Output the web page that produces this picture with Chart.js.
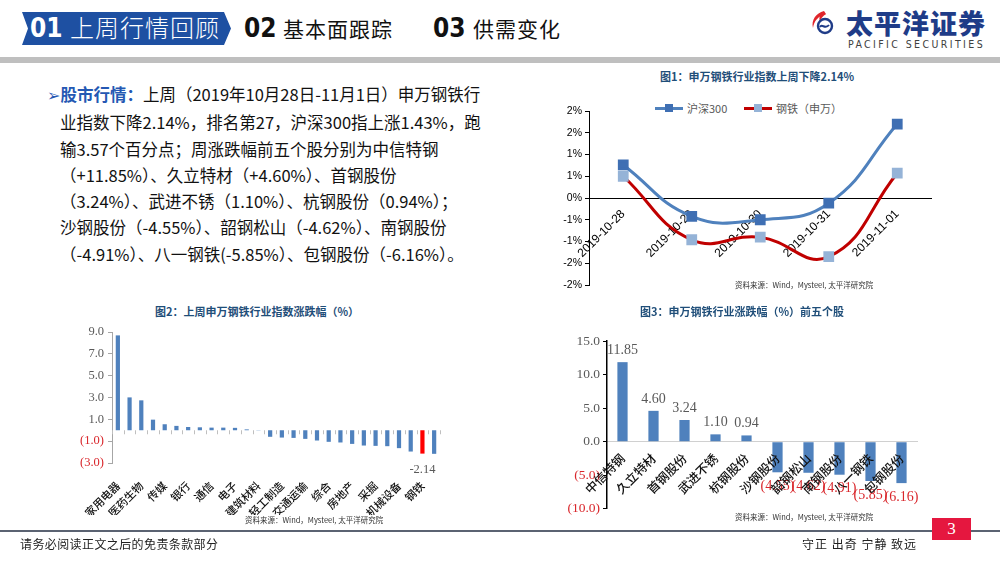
<!DOCTYPE html>
<html><head><meta charset="utf-8">
<script src="https://cdn.jsdelivr.net/npm/chart.js@4.4.1/dist/chart.umd.min.js"></script>
<style>
html,body{margin:0;padding:0;}
body{width:1000px;height:563px;position:relative;overflow:hidden;background:#fff;font-family:"Noto Sans CJK SC","Noto Sans",sans-serif;}
.abs{position:absolute;white-space:nowrap;}
canvas{position:absolute;}
.ctitle{position:absolute;white-space:nowrap;font-weight:bold;font-size:11px;color:#1F4E79;transform:translateX(-50%);line-height:13px;}
.src{position:absolute;white-space:nowrap;font-size:7.5px;color:#333;line-height:9px;}
.lg{position:absolute;white-space:nowrap;font-size:11px;color:#595959;line-height:14px;display:flex;align-items:center;}
.lgline{position:relative;display:inline-block;width:28px;height:3px;margin-right:4px;}
.lgline i{position:absolute;left:10px;top:-3px;width:8px;height:8px;}
</style></head><body>

<!-- header -->
<div class="abs" style="left:22px;top:12px;width:209px;height:33px;background:#1E50A2;clip-path:polygon(0 0,202px 0,209px 50%,202px 100%,0 100%,6px 50%);"></div>
<div class="abs" style="left:30px;top:11px;font-family:'Liberation Sans Narrow','DejaVu Sans Condensed',sans-serif;font-weight:bold;font-size:26px;line-height:34px;color:#fff;">01</div>
<div class="abs" style="left:70px;top:10px;font-size:24px;line-height:34px;font-weight:300;color:#fff;letter-spacing:1px;">上周行情回顾</div>
<div class="abs" style="left:244px;top:11px;font-family:'Liberation Sans Narrow','DejaVu Sans Condensed',sans-serif;font-weight:bold;font-size:26px;line-height:34px;color:#111;">02</div>
<div class="abs" style="left:283px;top:11px;font-size:21px;line-height:34px;color:#111;letter-spacing:1px;">基本面跟踪</div>
<div class="abs" style="left:433px;top:11px;font-family:'Liberation Sans Narrow','DejaVu Sans Condensed',sans-serif;font-weight:bold;font-size:26px;line-height:34px;color:#111;">03</div>
<div class="abs" style="left:473px;top:11px;font-size:21px;line-height:34px;color:#111;letter-spacing:1px;">供需变化</div>

<svg class="abs" style="left:810px;top:10px" width="28" height="26" viewBox="0 0 28 26">
  <path d="M14 1 C6 3 1 10 3 18 C4 11 8 6 16 4 Z" fill="#E0252B"/>
  <path d="M11 4 C9 7 9 9 10 11 C11 8 13 6 16 4 Z" fill="#E0252B"/>
  <circle cx="15" cy="16" r="7" fill="none" stroke="#1F3C88" stroke-width="2.4"/>
  <path d="M10 17 C12 13 15 20 19 15" stroke="#1F3C88" stroke-width="2" fill="none"/>
</svg>
<div class="abs" style="left:846px;top:5px;font-size:27px;line-height:36px;font-weight:900;color:#1F3C88;letter-spacing:1px;">太平洋证券</div>
<div class="abs" style="left:848px;top:38px;font-family:'DejaVu Sans Condensed','Liberation Sans',sans-serif;font-size:10.5px;line-height:12px;color:#404040;letter-spacing:2.4px;">PACIFIC SECURITIES</div>
<div class="abs" style="left:0;top:57px;width:1000px;height:6px;background:#BFBFBF;"></div>

<!-- text block -->
<div class="abs" style="left:47px;top:81px;font-size:16.5px;line-height:26.3px;color:#111;">
  <div><span style="color:#2458B3;font-weight:bold;"><span style="font-family:'DejaVu Sans';font-size:16px;">➢</span>股市行情：</span>上周（2019年10月28日-11月1日）申万钢铁行</div>
  <div style="padding-left:13px">业指数下降2.14%，排名第27，沪深300指上涨1.43%，跑</div>
  <div style="padding-left:13px">输3.57个百分点；周涨跌幅前五个股分别为中信特钢</div>
  <div style="padding-left:13px">（+11.85%）、久立特材（+4.60%）、首钢股份</div>
  <div style="padding-left:13px">（3.24%）、武进不锈（1.10%）、杭钢股份（0.94%）；</div>
  <div style="padding-left:13px">沙钢股份（-4.55%）、韶钢松山（-4.62%）、南钢股份</div>
  <div style="padding-left:13px">（-4.91%）、八一钢铁(-5.85%）、包钢股份（-6.16%）。</div>
</div>

<!-- chart 1 -->
<div class="ctitle" style="left:757px;top:70px;">图1：申万钢铁行业指数上周下降2.14%</div>
<div class="lg" style="left:655px;top:101px;"><span class="lgline" style="background:#4F81BD"><i style="background:#3F6FB3"></i></span>沪深300</div>
<div class="lg" style="left:744px;top:101px;"><span class="lgline" style="background:#C00000"><i style="background:#95B3D7"></i></span>钢铁（申万）</div>
<canvas id="c1" width="400" height="195" style="left:540px;top:100px;width:400px;height:195px"></canvas>
<div class="src" style="left:735px;top:280px;">资料来源：Wind，Mysteel, 太平洋研究院</div>

<!-- chart 2 -->
<div class="ctitle" style="left:257px;top:305px;">图2：上周申万钢铁行业指数涨跌幅（%）</div>
<canvas id="c2" width="390" height="195" style="left:60px;top:320px;width:390px;height:195px"></canvas>
<div class="src" style="left:245px;top:515px;">资料来源：Wind，Mysteel, 太平洋研究院</div>

<!-- chart 3 -->
<div class="ctitle" style="left:742px;top:305px;">图3：申万钢铁行业涨跌幅（%）前五个股</div>
<canvas id="c3" width="370" height="200" style="left:560px;top:320px;width:370px;height:200px"></canvas>
<div class="src" style="left:735px;top:512px;">资料来源：Wind，Mysteel, 太平洋研究院</div>

<!-- footer -->
<div class="abs" style="left:0;top:530px;width:1000px;height:2px;background:#5B6372;"></div>
<div class="abs" style="left:20px;top:536px;font-size:12px;line-height:16px;color:#222;letter-spacing:0.4px;">请务必阅读正文之后的免责条款部分</div>
<div class="abs" style="left:802px;top:536px;font-size:12px;line-height:16px;color:#222;letter-spacing:1px;">守正 出奇 宁静 致远</div>
<div class="abs" style="left:932px;top:518px;width:39px;height:22px;background:#E5173F;color:#fff;font-family:'Liberation Serif',serif;font-size:17px;line-height:22px;text-align:center;">3</div>

<script>
// ---------- data ----------
const lineDates = ['2019-10-28','2019-10-29','2019-10-30','2019-10-31','2019-11-01'];
const hs300Values = [0.76, -0.42, -0.50, -0.12, 1.70];
const steelSWValues = [0.50, -0.96, -0.90, -1.35, 0.57];

const industryNames = ['家用电器','休闲服务','医药生物','食品饮料','传媒','计算机','银行','非银金融','通信','电气设备','电子','农林牧渔','建筑材料','汽车','轻工制造','商业贸易','交通运输','纺织服装','综合','化工','房地产','公用事业','采掘','有色金属','机械设备','建筑装饰','钢铁','国防军工'];
const industryValues = [8.69, 3.01, 2.74, 0.97, 0.55, 0.40, 0.30, 0.27, 0.24, 0.24, 0.22, 0.08, -0.02, -0.60, -0.67, -0.70, -0.79, -0.94, -1.06, -1.12, -1.25, -1.40, -1.43, -1.46, -1.64, -1.95, -2.14, -2.16];
const highlightIndustry = '钢铁';

const stockNames = ['中信特钢','久立特材','首钢股份','武进不锈','杭钢股份','沙钢股份','韶钢松山','南钢股份','八一钢铁','包钢股份'];
const stockValues = [11.85, 4.60, 3.24, 1.10, 0.94, -4.55, -4.62, -4.91, -5.85, -6.16];

// ---------- helpers ----------
const BLUE = '#4F81BD';
const RED_TXT = '#D9262B';
const GRAY_TXT = '#595959';
const SERIF = "'Liberation Serif', 'DejaVu Serif', serif";
const CJK = "'Noto Sans CJK SC', sans-serif";
const acctFmt = v => v < 0 ? '(' + Math.abs(v).toFixed(1) + ')' : v.toFixed(1);
const pctRound = v => { const r = Math.sign(v) * Math.round(Math.abs(v) + 1e-9); return (r === 0 ? 0 : r) + '%'; };

// ---------- chart 1 ----------
new Chart(document.getElementById('c1'), {
  type: 'line',
  data: {
    labels: lineDates,
    datasets: [
      { label: '沪深300', data: hs300Values, borderColor: '#4F81BD', backgroundColor: '#3F6FB3',
        pointBackgroundColor: '#3F6FB3', pointBorderColor: '#3F6FB3', pointStyle: 'rect', pointRadius: 5.5,
        borderWidth: 3, tension: 0.45 },
      { label: '钢铁（申万）', data: steelSWValues, borderColor: '#C00000', backgroundColor: '#95B3D7',
        pointBackgroundColor: '#95B3D7', pointBorderColor: '#95B3D7', pointStyle: 'rect', pointRadius: 5.5,
        borderWidth: 3, tension: 0.45 }
    ]
  },
  options: {
    responsive: false, animation: false,
    layout: { padding: { left: 0, top: 11, right: 8, bottom: 10 } },
    plugins: { legend: { display: false }, tooltip: { enabled: false } },
    scales: {
      x: {
        position: { y: 0 }, offset: true,
        grid: { display: false, drawTicks: false },
        border: { display: true, color: '#000', width: 1 },
        ticks: { minRotation: 45, maxRotation: 45, autoSkip: false, padding: 9, color: '#000',
                 font: { family: "'Liberation Sans', Arial, sans-serif", size: 12 } }
      },
      y: {
        min: -2, max: 2,
        afterFit: s => { s.width = 49; },
        grid: { drawOnChartArea: false, drawTicks: true, tickLength: 4, color: '#000' },
        border: { display: true, color: '#000', width: 1 },
        ticks: { stepSize: 0.5, callback: v => pctRound(v), color: '#000', padding: 3,
                 font: { family: "'Liberation Sans', Arial, sans-serif", size: 10.5 } }
      }
    }
  }
});

// ---------- chart 2 ----------
const zeroTicks = {
  id: 'zeroTicks',
  afterDraw(chart) {
    const xs = chart.scales.x, ys = chart.scales.y, ctx = chart.ctx;
    const y0 = ys.getPixelForValue(0);
    ctx.save(); ctx.strokeStyle = '#BFBFBF'; ctx.lineWidth = 1;
    for (let i = 0; i <= industryNames.length; i++) {
      const x = Math.round(xs.getPixelForValue(i - 0.5)) + 0.5;
      ctx.beginPath(); ctx.moveTo(x, y0); ctx.lineTo(x, y0 + 4); ctx.stroke();
    }
    const meta = chart.getDatasetMeta(0);
    const hi = industryNames.indexOf(highlightIndustry);
    const bar = meta.data[hi];
    ctx.fillStyle = GRAY_TXT; ctx.font = '12.5px ' + SERIF; ctx.textAlign = 'center'; ctx.textBaseline = 'top';
    ctx.fillText(industryValues[hi].toFixed(2), bar.x, bar.y + 10);
    ctx.restore();
  }
};
new Chart(document.getElementById('c2'), {
  type: 'bar',
  data: {
    labels: industryNames,
    datasets: [{ data: industryValues,
      backgroundColor: industryNames.map(n => n === highlightIndustry ? '#FF0000' : BLUE),
      barPercentage: 0.36, categoryPercentage: 1 }]
  },
  options: {
    responsive: false, animation: false,
    layout: { padding: { left: 0, top: 12, right: 10, bottom: 0 } },
    plugins: { legend: { display: false }, tooltip: { enabled: false } },
    scales: {
      x: {
        afterFit: s => { s.height = 52; s.paddingLeft = 0; s.paddingRight = 0; },
        grid: { display: false, drawTicks: false },
        border: { display: false },
        ticks: { minRotation: 45, maxRotation: 45, autoSkip: false, padding: 16, color: '#111',
                 callback: (v, i) => i % 2 === 0 ? industryNames[i] : '',
                 font: { family: CJK, size: 11, weight: '500' } }
      },
      y: {
        min: -3, max: 9,
        afterFit: s => { s.width = 52; },
        grid: { drawOnChartArea: true, drawTicks: true, tickLength: 4,
                color: c => c.tick && c.tick.value === 0 ? '#D0D0D0' : 'rgba(0,0,0,0)', tickColor: '#A6A6A6' },
        border: { display: true, color: '#A6A6A6', width: 1 },
        ticks: { stepSize: 2, callback: v => acctFmt(v), padding: 4,
                 color: c => c.tick.value < 0 ? RED_TXT : GRAY_TXT,
                 font: { family: SERIF, size: 12.5 } }
      }
    }
  },
  plugins: [zeroTicks]
});

// ---------- chart 3 ----------
const barLabels = {
  id: 'barLabels',
  afterDatasetsDraw(chart) {
    const ctx = chart.ctx, meta = chart.getDatasetMeta(0);
    ctx.save(); ctx.font = '14px ' + SERIF; ctx.textAlign = 'center';
    meta.data.forEach((bar, i) => {
      const v = stockValues[i];
      if (v >= 0) { ctx.fillStyle = GRAY_TXT; ctx.textBaseline = 'bottom'; ctx.fillText(v.toFixed(2), bar.x, bar.y - 5); }
      else { ctx.fillStyle = RED_TXT; ctx.textBaseline = 'top'; ctx.fillText('(' + Math.abs(v).toFixed(2) + ')', bar.x, bar.y + 7); }
    });
    ctx.restore();
  }
};
new Chart(document.getElementById('c3'), {
  type: 'bar',
  data: {
    labels: stockNames,
    datasets: [{ data: stockValues, backgroundColor: BLUE, barPercentage: 0.33, categoryPercentage: 1 }]
  },
  options: {
    responsive: false, animation: false,
    layout: { padding: { left: 0, top: 21, right: 13, bottom: 9 } },
    plugins: { legend: { display: false }, tooltip: { enabled: false } },
    scales: {
      x: {
        position: { y: 0 },
        grid: { display: false, drawTicks: false },
        border: { display: true, color: '#D0D0D0', width: 1 },
        ticks: { z: 1, minRotation: 45, maxRotation: 45, autoSkip: false, padding: 9, color: '#111',
                 font: { family: CJK, size: 12.5, weight: '500' } }
      },
      y: {
        min: -10, max: 15,
        afterFit: s => { s.width = 47; },
        grid: { drawOnChartArea: false, drawTicks: true, tickLength: 4, color: '#000' },
        border: { display: true, color: '#000', width: 1.5 },
        ticks: { stepSize: 5, callback: v => acctFmt(v), padding: 3,
                 color: c => c.tick.value < 0 ? RED_TXT : GRAY_TXT,
                 font: { family: SERIF, size: 13.5 } }
      }
    }
  },
  plugins: [barLabels]
});
</script>
</body></html>
